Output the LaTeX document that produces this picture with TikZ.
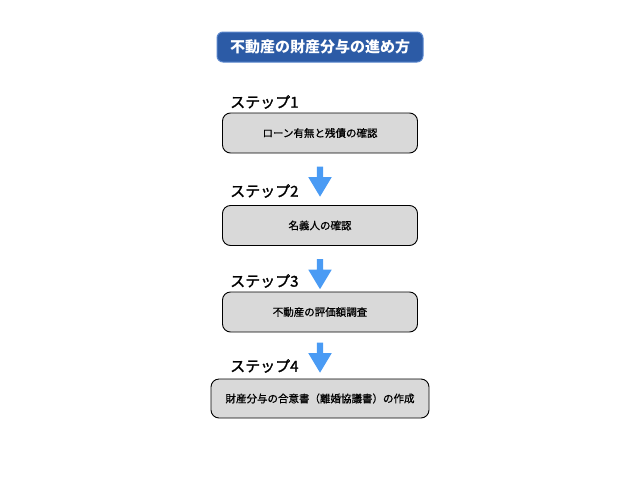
\documentclass[tikz,border=0pt]{standalone}
\usepackage{fontspec}
\setmainfont{Noto Sans CJK JP}
\newfontfamily\stepfont[FakeBold=1.6]{Noto Sans CJK JP}
\newfontfamily\boxfont[FakeBold=0.8]{Noto Sans CJK JP}
\usepackage{tikz}
\usetikzlibrary{shapes, shapes.arrows, positioning}
\definecolor{titleblue}{HTML}{2C5BA6}
\definecolor{titleedge}{HTML}{5A86CC}
\definecolor{arrowblue}{HTML}{4A9BF4}
\definecolor{boxgray}{HTML}{D9D9D9}
\tikzset{
  titlebox/.style={draw=titleedge, fill=titleblue, rounded corners=6pt, line width=1pt,
    minimum width=206pt, minimum height=30pt, text=white, font=\fontsize{15}{15}\selectfont\bfseries},
  stepname/.style={anchor=west, inner sep=0pt, font=\fontsize{15}{15}\selectfont\stepfont},
  stepbox/.style={draw=black, fill=boxgray, rounded corners=8pt, line width=0.9pt,
    minimum width=195pt, minimum height=40pt, font=\fontsize{10.5}{10.5}\selectfont\boxfont},
  downarrow/.style={single arrow, draw=none, fill=arrowblue, inner sep=3pt,
    minimum height=30pt, single arrow head extend=8.5pt, single arrow tip angle=62,
    shape border rotate=270}
}
\begin{document}
\begin{tikzpicture}[x=1pt, y=-1pt]
  \useasboundingbox (0,0) rectangle (640,480);
  \node[titlebox] (title) at (320,47) {不動産の財産分与の進め方};
  \node[stepname] (s1) at (230,102) {ステップ1};
  \node[stepname] (s2) at (230,191) {ステップ2};
  \node[stepname] (s3) at (230,281) {ステップ3};
  \node[stepname] (s4) at (230,366) {ステップ4};
  \node[stepbox] (b1) at (320,133) {ローン有無と残債の確認};
  \node[stepbox] (b2) at (320,225.5) {名義人の確認};
  \node[stepbox] (b3) at (320,312) {不動産の評価額調査};
  \node[stepbox, minimum width=218pt, minimum height=39pt] (b4) at (320,398.5) {財産分与の合意書（離婚協議書）の作成};
  \node[downarrow] (a1) at (320,179) {};
  \node[downarrow] (a2) at (320,271.5) {};
  \node[downarrow] (a3) at (320,355) {};
\end{tikzpicture}
\end{document}
